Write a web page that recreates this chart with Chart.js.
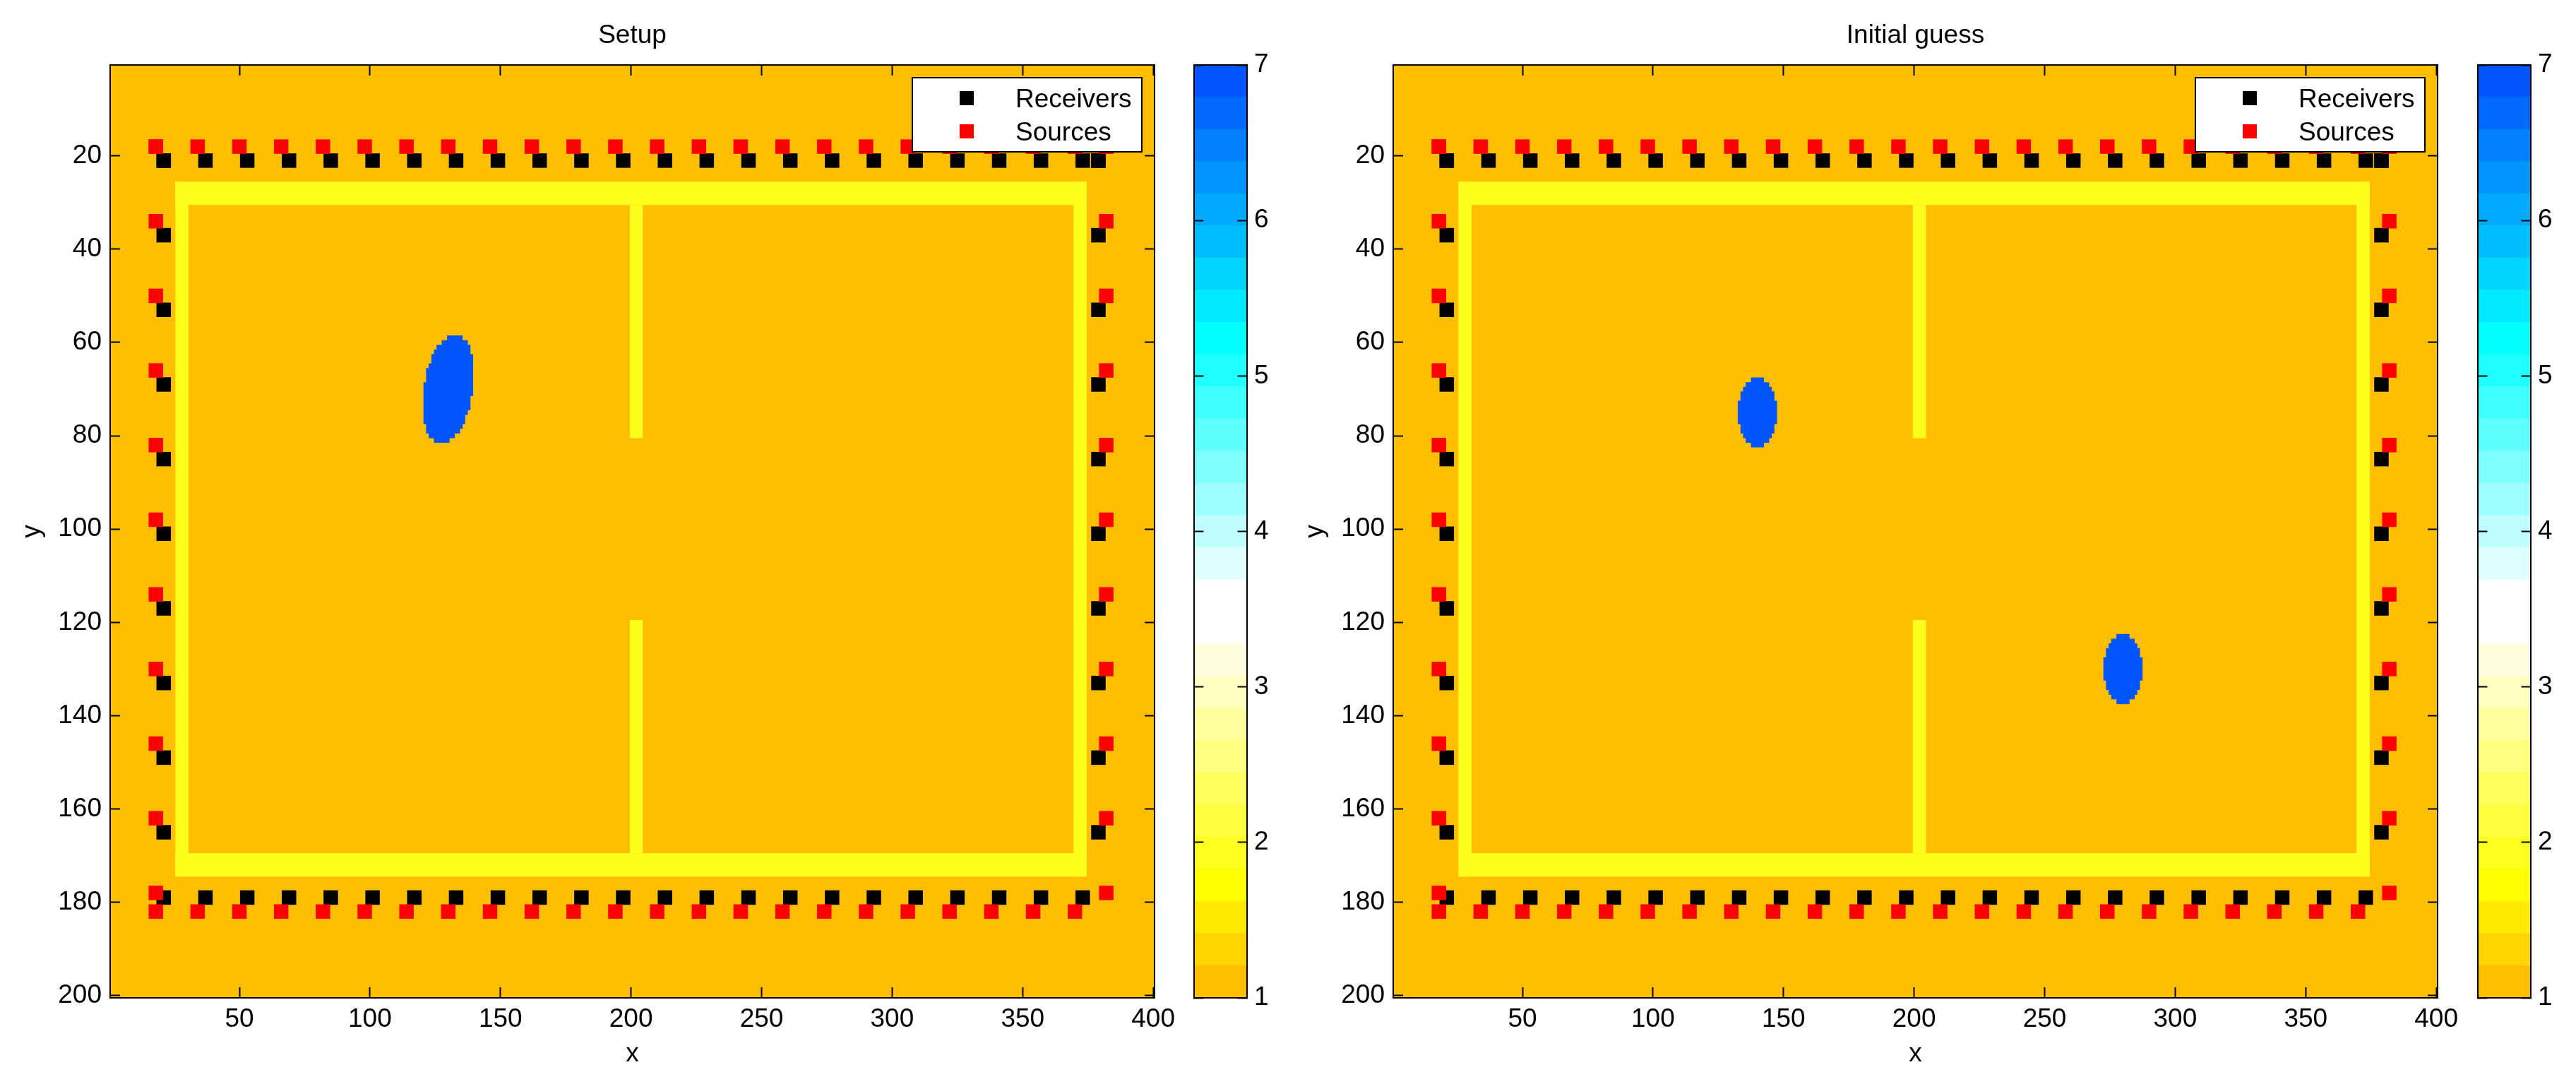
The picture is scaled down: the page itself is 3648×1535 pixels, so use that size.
<!DOCTYPE html>
<html>
<head>
<meta charset="utf-8">
<title>Setup / Initial guess</title>
<script src="https://cdn.jsdelivr.net/npm/chart.js@4/dist/chart.umd.js"></script>
<style>
  html, body { margin: 0; background: #fff; width: 3648px; height: 1535px; overflow: hidden; }
  canvas { position: absolute; top: 0; }
  #setup   { left: 0; }
  #setupCb { left: 1670px; }
  #guess   { left: 1817px; }
  #guessCb { left: 3488px; }
</style>
</head>
<body>
<canvas id="setup" width="1690" height="1535"></canvas>
<canvas id="setupCb" width="160" height="1535"></canvas>
<canvas id="guess" width="1690" height="1535"></canvas>
<canvas id="guessCb" width="160" height="1535"></canvas>
<script>
const xTicks = [50, 100, 150, 200, 250, 300, 350, 400];
const yTicks = [20, 40, 60, 80, 100, 120, 140, 160, 180, 200];
const cbTicks = [1, 2, 3, 4, 5, 6, 7];

// sensors
const sourceRowX = [18, 34, 50, 66, 82, 98, 114, 130, 146, 162, 178, 194, 210, 226, 242, 258, 274, 290, 306, 322, 338, 354, 370];
const sourceColY = [18, 34, 50, 66, 82, 98, 114, 130, 146, 162, 178];
const receiverRowX = [21, 37, 53, 69, 85, 101, 117, 133, 149, 165, 181, 197, 213, 229, 245, 261, 277, 293, 309, 325, 341, 357, 373];
const receiverColY = [21, 37, 53, 69, 85, 101, 117, 133, 149, 165];

// field extent and walls (value 2), cell edges
const fieldX = [0.5, 400.5];
const fieldY = [0.5, 200.5];
const wallX0 = [25.5, 369.5, 25.5, 25.5, 199.5, 199.5];
const wallX1 = [30.5, 374.5, 374.5, 374.5, 204.5, 204.5];
const wallY0 = [25.5, 25.5, 25.5, 169.5, 30.5, 119.5];
const wallY1 = [174.5, 174.5, 30.5, 174.5, 80.5, 169.5];

// inclusions (value 7): row edges, then left / right edge of each row
const setupBlobY = [58.5, 59.5, 60.5, 61.5, 62.5, 64.5, 65.5, 68.5, 71.5, 74.5, 75.5, 77.5, 78.5, 79.5, 80.5, 81.5];
const setupBlobL = [129.5, 127.5, 125.5, 124.5, 123.5, 122.5, 121.5, 120.5, 120.5, 120.5, 120.5, 121.5, 121.5, 122.5, 124.5];
const setupBlobR = [135.5, 137.5, 138.5, 138.5, 139.5, 139.5, 139.5, 139.5, 138.5, 137.5, 136.5, 135.5, 134.5, 132.5, 130.5];

const guessBlobAY = [67.5, 68.5, 69.5, 70.5, 72.5, 77.5, 79.5, 80.5, 81.5, 82.5];
const guessBlobAL = [137.5, 135.5, 134.5, 133.5, 132.5, 133.5, 134.5, 135.5, 137.5];
const guessBlobAR = [142.5, 144.5, 145.5, 146.5, 147.5, 146.5, 145.5, 144.5, 142.5];

const guessBlobBY = [122.5, 123.5, 124.5, 125.5, 127.5, 132.5, 134.5, 135.5, 136.5, 137.5];
const guessBlobBL = [277.5, 275.5, 274.5, 273.5, 272.5, 273.5, 274.5, 275.5, 277.5];
const guessBlobBR = [282.5, 284.5, 285.5, 286.5, 287.5, 286.5, 285.5, 284.5, 282.5];

// colorbar, bottom to top
const levelTops = [1.207, 1.414, 1.621, 1.828, 2.034, 2.241, 2.448, 2.655, 2.862, 3.069, 3.276, 3.483, 3.69, 3.897, 4.103, 4.31, 4.517, 4.724, 4.931, 5.138, 5.345, 5.552, 5.759, 5.966, 6.172, 6.379, 6.586, 6.793, 7];
const levelColors = ['#ffbf00', '#ffd500', '#ffea00', '#ffff00', '#ffff20', '#ffff40', '#ffff60', '#ffff80', '#ffff9f', '#ffffbf', '#ffffdf', '#ffffff', '#ffffff', '#dfffff', '#bfffff', '#9fffff', '#80ffff', '#60ffff', '#40ffff', '#20ffff', '#00ffff', '#00eaff', '#00d5ff', '#00bfff', '#00aaff', '#0095ff', '#0080ff', '#006aff', '#0055ff'];

const BG_COLOR = '#ffbf00';
const WALL_COLOR = '#ffff1c';
const BLOB_COLOR = '#0055ff';
const FONT_SIZE = 37;

Chart.defaults.font.family = '"Liberation Sans", Arial, sans-serif';
Chart.defaults.font.size = FONT_SIZE;
Chart.defaults.color = '#000';

function cross(rowX, rowY) {
  return rowX.map(x => ({ x, y: rowY }));
}

function column(colX, colY) {
  return colY.map(y => ({ x: colX, y }));
}

function rectShape(x0, x1, y0, y1) {
  return [{ x: x0, y: y0 }, { x: x1, y: y0 }, { x: x1, y: y1 }, { x: x0, y: y1 }, { x: x0, y: y0 }];
}

// stepped outline of a pixel blob: down the right side, back up the left
function blobShape(edges, left, right) {
  const pts = [];
  right.forEach((x, i) => pts.push({ x, y: edges[i] }, { x, y: edges[i + 1] }));
  for (let i = left.length - 1; i >= 0; i--) {
    pts.push({ x: left[i], y: edges[i + 1] }, { x: left[i], y: edges[i] });
  }
  pts.push({ x: right[0], y: edges[0] });
  return pts;
}

function shapeDataset(data, color, order) {
  return {
    data,
    showLine: true,
    fill: 'shape',
    backgroundColor: color,
    borderWidth: 0,
    pointRadius: 0,
    tension: 0,
    order,
  };
}

function markerDataset(label, data, color, order) {
  return {
    label,
    data,
    pointStyle: 'rect',
    pointRadius: 14.5,
    pointBackgroundColor: color,
    pointBorderWidth: 0,
    order,
  };
}

function axisGrid(len) {
  return { drawOnChartArea: false, tickLength: -len, tickWidth: 2, tickColor: '#000', z: 1 };
}

const boxBorder = { color: '#000', width: 2, z: 1 };

// legend box sits inside the axes, drawn last so it covers the markers
const legendBoxPlugin = {
  id: 'legendBox',
  afterDraw(chart) {
    const { ctx, chartArea } = chart;
    const left = chartArea.right - 343;
    const top = chartArea.top + 18;
    ctx.save();
    ctx.fillStyle = '#fff';
    ctx.strokeStyle = '#000';
    ctx.lineWidth = 2;
    ctx.fillRect(left, top, 325, 105);
    ctx.strokeRect(left, top, 325, 105);
    ctx.font = `${FONT_SIZE}px "Liberation Sans", Arial, sans-serif`;
    ctx.textBaseline = 'alphabetic';
    chart.data.datasets.filter(d => d.label).forEach((d, i) => {
      const cy = top + 29 + i * 47;
      ctx.fillStyle = d.pointBackgroundColor;
      ctx.fillRect(left + 67, cy - 10, 20, 20);
      ctx.fillStyle = '#000';
      ctx.fillText(d.label, left + 146, cy + 13);
    });
    ctx.restore();
  },
};

function makePanel(id, titleText, blobs) {
  const receivers = [
    ...cross(receiverRowX, 21), { x: 379, y: 21 },
    ...cross(receiverRowX, 179),
    ...column(21, receiverColY),
    ...column(379, receiverColY),
  ];
  const sources = [
    ...cross(sourceRowX, 18), ...cross(sourceRowX, 182),
    ...column(18, sourceColY), ...column(382, sourceColY),
  ];
  const datasets = [
    markerDataset('Receivers', receivers, '#000000', 2),
    markerDataset('Sources', sources, '#ff0000', 1),
  ];
  blobs.forEach(b => datasets.push(shapeDataset(blobShape(b[0], b[1], b[2]), BLOB_COLOR, 3)));
  wallX0.forEach((x0, i) => {
    datasets.push(shapeDataset(rectShape(x0, wallX1[i], wallY0[i], wallY1[i]), WALL_COLOR, 4));
  });
  datasets.push(shapeDataset(rectShape(fieldX[0], fieldX[1], fieldY[0], fieldY[1]), BG_COLOR, 5));

  return new Chart(document.getElementById(id), {
    type: 'scatter',
    data: { datasets },
    plugins: [legendBoxPlugin],
    options: {
      responsive: false,
      animation: false,
      devicePixelRatio: 1,
      events: [],
      layout: { padding: { left: 0, right: 55, top: 28.7, bottom: 0 } },
      plugins: {
        legend: { display: false },
        tooltip: { enabled: false },
        title: {
          display: true,
          text: titleText,
          fullSize: false,
          font: { size: FONT_SIZE, weight: 'normal' },
          padding: { top: 0, bottom: 18.9 },
        },
      },
      scales: {
        x: {
          type: 'linear', position: 'bottom', min: fieldX[0], max: fieldX[1],
          afterBuildTicks: a => { a.ticks = xTicks.map(value => ({ value })); },
          afterFit: a => { a.height = 122; },
          ticks: { padding: 24, autoSkip: false, maxRotation: 0 },
          grid: axisGrid(15),
          border: boxBorder,
          title: { display: true, text: 'x', font: { size: FONT_SIZE }, padding: { top: 0, bottom: 19.8 } },
        },
        y: {
          type: 'linear', position: 'left', reverse: true, min: fieldY[0], max: fieldY[1],
          afterBuildTicks: a => { a.ticks = yTicks.map(value => ({ value })); },
          afterFit: a => { a.width = 156; },
          ticks: { padding: 26, autoSkip: false },
          grid: axisGrid(14),
          border: boxBorder,
          title: { display: true, text: 'y', font: { size: FONT_SIZE }, padding: { top: 24, bottom: 0 } },
        },
        x2: {
          type: 'linear', axis: 'x', position: 'top', min: fieldX[0], max: fieldX[1],
          afterBuildTicks: a => { a.ticks = xTicks.map(value => ({ value })); },
          afterFit: a => { a.height = 0; },
          ticks: { display: false },
          grid: axisGrid(15),
          border: boxBorder,
        },
        y2: {
          type: 'linear', axis: 'y', position: 'right', reverse: true, min: fieldY[0], max: fieldY[1],
          afterBuildTicks: a => { a.ticks = yTicks.map(value => ({ value })); },
          afterFit: a => { a.width = 0; },
          ticks: { display: false },
          grid: axisGrid(14),
          border: boxBorder,
        },
      },
    },
  });
}

function makeColorbar(id) {
  // every bar starts at the base so neighbouring bands leave no seam
  const datasets = levelTops.map((top, i) => ({
    data: [top],
    base: 1,
    backgroundColor: levelColors[i],
    borderWidth: 0,
    barPercentage: 1,
    categoryPercentage: 1,
    grouped: false,
  }));

  return new Chart(document.getElementById(id), {
    type: 'bar',
    data: { labels: [''], datasets },
    options: {
      responsive: false,
      animation: false,
      devicePixelRatio: 1,
      events: [],
      layout: { padding: { left: 21, right: 0, top: 92, bottom: 122 } },
      plugins: { legend: { display: false }, tooltip: { enabled: false } },
      scales: {
        x: {
          position: 'bottom',
          afterFit: a => { a.height = 0; },
          ticks: { display: false },
          grid: { display: false },
          border: boxBorder,
        },
        x2: {
          type: 'category', axis: 'x', position: 'top', labels: [''],
          afterFit: a => { a.height = 0; },
          ticks: { display: false },
          grid: { display: false },
          border: boxBorder,
        },
        y: {
          position: 'right', min: 1, max: 7,
          afterBuildTicks: a => { a.ticks = cbTicks.map(value => ({ value })); },
          afterFit: a => { a.width = 64; },
          ticks: { padding: 23.4, autoSkip: false },
          grid: axisGrid(13.4),
          border: boxBorder,
        },
        y2: {
          type: 'linear', axis: 'y', position: 'left', min: 1, max: 7,
          afterBuildTicks: a => { a.ticks = cbTicks.map(value => ({ value })); },
          afterFit: a => { a.width = 0; },
          ticks: { display: false },
          grid: axisGrid(13.4),
          border: boxBorder,
        },
      },
    },
  });
}

makePanel('setup', 'Setup', [[setupBlobY, setupBlobL, setupBlobR]]);
makeColorbar('setupCb');
makePanel('guess', 'Initial guess', [
  [guessBlobAY, guessBlobAL, guessBlobAR],
  [guessBlobBY, guessBlobBL, guessBlobBR],
]);
makeColorbar('guessCb');
</script>
</body>
</html>
